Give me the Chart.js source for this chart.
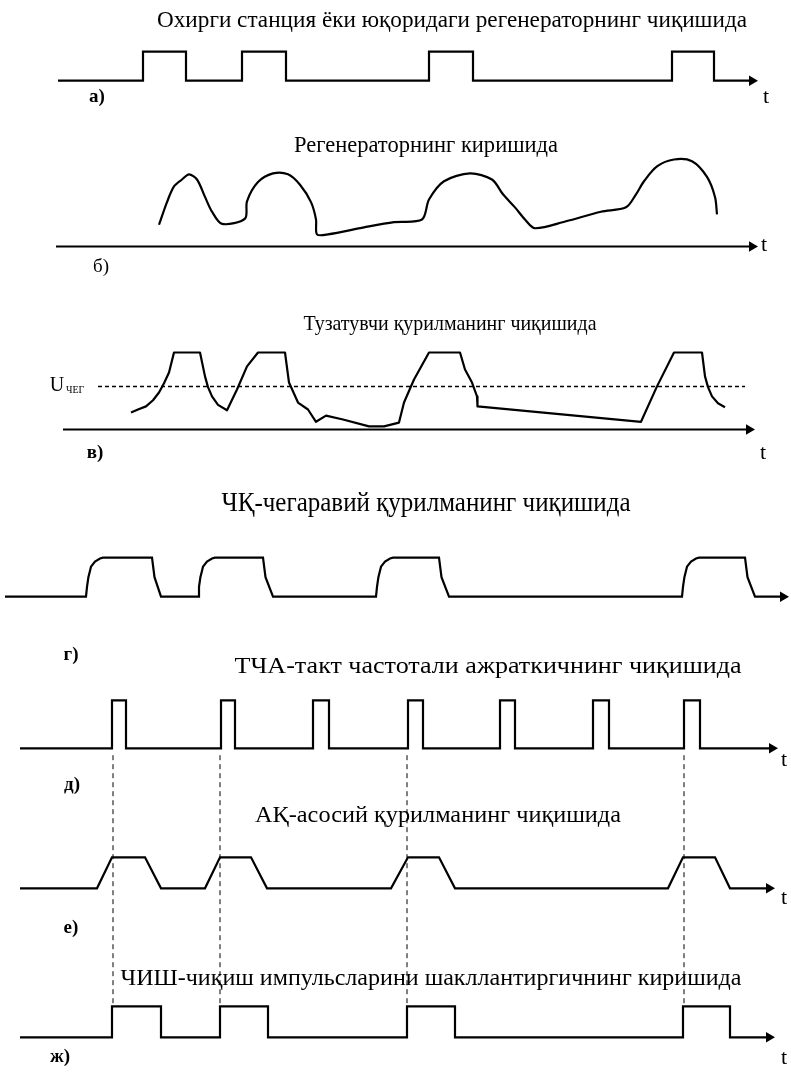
<!DOCTYPE html>
<html>
<head>
<meta charset="utf-8">
<script src="https://cdn.jsdelivr.net/npm/chart.js@4.4.0/dist/chart.umd.min.js"></script>
<style>
  html, body { margin: 0; padding: 0; background: #fff; }
  canvas { display: block; }
</style>
</head>
<body>
<canvas id="diagram" width="791" height="1072"></canvas>
<script>
// Timing diagrams: time t on a shared axis, level relative to each baseline

// а) output of the last station / upstream regenerator
const aTime  = [58, 143, 143, 186, 186, 242, 242, 286, 286, 429, 429, 473, 473, 672, 672, 714, 714, 752];
const aLevel = [0, 0, 1, 1, 0, 0, 1, 1, 0, 0, 1, 1, 0, 0, 1, 1, 0, 0];

// б) regenerator input (distorted signal)
const bAxis  = [56, 752];
const bTime  = [159, 167, 174, 182, 189, 197, 205, 212, 222, 245, 247, 258, 273, 288, 300, 311, 316, 317,
                328, 364, 394, 422, 429, 444, 470, 492, 503, 515, 525, 535, 566, 601, 626, 636, 644, 657,
                674, 692, 707, 715, 717];
const bLevel = [0.25, 0.51, 0.69, 0.77, 0.83, 0.77, 0.57, 0.40, 0.26, 0.32, 0.52, 0.74, 0.84, 0.83, 0.71, 0.51, 0.31, 0.14,
                0.14, 0.22, 0.28, 0.31, 0.54, 0.75, 0.84, 0.77, 0.60, 0.45, 0.31, 0.21, 0.29, 0.40, 0.45, 0.60, 0.75, 0.92,
                1.00, 0.98, 0.80, 0.57, 0.37];

// в) corrector output and threshold U
const vAxis  = [63, 749];
const vTime  = [131, 138, 146, 153, 159, 164, 169, 174, 200, 205, 208, 212, 218, 227, 237, 247, 258, 285,
                289, 298, 308, 316, 326, 343, 369, 384, 399, 404, 414, 429, 460, 465, 472, 477, 477.5,
                641, 657, 674, 702, 705, 708, 712, 718, 725];
const vLevel = [0.22, 0.26, 0.30, 0.38, 0.48, 0.60, 0.74, 1, 1, 0.69, 0.55, 0.43, 0.32, 0.25, 0.52, 0.82, 1, 1,
                0.61, 0.35, 0.26, 0.10, 0.18, 0.13, 0.04, 0.04, 0.09, 0.35, 0.65, 1, 1, 0.78, 0.61, 0.43, 0.30,
                0.10, 0.56, 1, 1, 0.69, 0.55, 0.43, 0.34, 0.29];
const vThresholdTime = [98, 745];
const vThreshold = 0.56;

// г) threshold device output
const gTime  = [5,
                86, 87, 88.4, 91, 95, 100, 103, 152, 154.5, 161,
                198, 199, 200.4, 203, 207, 212, 215, 263, 265.5, 273,
                376, 377, 378.4, 381, 385, 390, 393, 439, 441.5, 449,
                682, 683, 684.4, 687, 691, 696, 699, 745, 747.5, 755,
                783];
const gLevel = [0,
                0, 0.25, 0.5, 0.77, 0.9, 0.98, 1, 1, 0.5, 0,
                0, 0.25, 0.5, 0.77, 0.9, 0.98, 1, 1, 0.5, 0,
                0, 0.25, 0.5, 0.77, 0.9, 0.98, 1, 1, 0.5, 0,
                0, 0.25, 0.5, 0.77, 0.9, 0.98, 1, 1, 0.5, 0,
                0];

// д) clock frequency separator output
const dTime  = [20, 112, 112, 126, 126, 221, 221, 235, 235, 313, 313, 329, 329, 408, 408, 423, 423,
                500, 500, 515, 515, 593, 593, 609, 609, 684, 684, 700, 700, 772];
const dLevel = [0, 0, 1, 1, 0, 0, 1, 1, 0, 0, 1, 1, 0, 0, 1, 1, 0,
                0, 1, 1, 0, 0, 1, 1, 0, 0, 1, 1, 0, 0];

// е) main device output
const eTime  = [20, 97, 112, 145, 161, 205, 220, 251, 267, 391, 408, 439, 455, 668, 683, 715, 730, 769];
const eLevel = [0, 0, 1, 1, 0, 0, 1, 1, 0, 0, 1, 1, 0, 0, 1, 1, 0, 0];

// ж) output pulse shaper input
const zhTime  = [20, 112, 112, 161, 161, 220, 220, 268, 268, 407, 407, 455, 455, 683, 683, 730, 730, 769];
const zhLevel = [0, 0, 1, 1, 0, 0, 1, 1, 0, 0, 1, 1, 0, 0, 1, 1, 0, 0];

// sync markers (dashed) from д down to ж
const markerTime = [113, 220, 407, 684];
const markerLevels = [9.1, 1];

// --- layout: baseline pixel and pixels per level unit for every panel ---
const H = 1072;
const panels = {
  a:  { base: 80.7,  unit: 29 },
  b:  { base: 246.5, unit: 87 },
  v:  { base: 429.5, unit: 77 },
  g:  { base: 596.7, unit: 39 },
  d:  { base: 748.3, unit: 48 },
  e:  { base: 888.3, unit: 31 },
  zh: { base: 1037.3, unit: 31 }
};

const serif = '"Liberation Serif", "Times New Roman", serif';
const captions = [
  { text: 'Охирги станция ёки юқоридаги регенераторнинг чиқишида', x: 452, y: 21, size: 23, w: 590 },
  { text: 'Регенераторнинг киришида', x: 426, y: 146, size: 23, w: 264 },
  { text: 'Тузатувчи қурилманинг чиқишида', x: 450, y: 324, size: 22, w: 293 },
  { text: 'ЧҚ-чегаравий қурилманинг чиқишида', x: 426, y: 504, size: 27, w: 409 },
  { text: 'ТЧА-такт частотали ажраткичнинг чиқишида', x: 488, y: 667, size: 23, w: 507 },
  { text: 'АҚ-асосий қурилманинг чиқишида', x: 438, y: 816, size: 23, w: 366 },
  { text: 'ЧИШ-чиқиш импульсларини шакллантиргичнинг киришида', x: 431, y: 979, size: 23, w: 621 },
  { text: 'а)', x: 97, y: 97, size: 19, bold: true },
  { text: 'б)', x: 101, y: 267, size: 19 },
  { text: 'в)', x: 95, y: 453, size: 19, bold: true },
  { text: 'г)', x: 71, y: 655, size: 19, bold: true },
  { text: 'д)', x: 72, y: 785, size: 19, bold: true },
  { text: 'е)', x: 71, y: 928, size: 19, bold: true },
  { text: 'ж)', x: 60, y: 1057, size: 19, bold: true },
  { text: 't', x: 766, y: 97, size: 22 },
  { text: 't', x: 764, y: 245, size: 22 },
  { text: 't', x: 763, y: 453, size: 22 },
  { text: 't', x: 784, y: 760, size: 22 },
  { text: 't', x: 784, y: 898, size: 22 },
  { text: 't', x: 784, y: 1058, size: 22 },
  { text: 'U', x: 57, y: 386, size: 20 },
  { text: 'ЧЕГ', x: 66, y: 390, size: 10, align: 'left' }
];

function points(ts, vs) {
  return ts.map((t, i) => ({ x: t, y: vs[i] }));
}

function arrowEnd(ctx) {
  return ctx.dataIndex === ctx.dataset.data.length - 1 ? 6 : 0;
}

function trace(data, axis, extra) {
  return Object.assign({
    data: data,
    yAxisID: axis,
    showLine: true,
    borderColor: '#000',
    backgroundColor: '#000',
    borderWidth: 2.2,
    borderJoinStyle: 'miter',
    pointRadius: 0,
    pointHoverRadius: 0,
    tension: 0
  }, extra || {});
}

const arrow = { pointRadius: arrowEnd, pointStyle: 'triangle', pointRotation: 90, pointBorderWidth: 0 };

const datasets = [
  trace(points(aTime, aLevel), 'a', arrow),
  trace(points(bAxis, [0, 0]), 'b', arrow),
  trace(points(bTime, bLevel), 'b', { tension: 0.3 }),
  trace(points(vAxis, [0, 0]), 'v', arrow),
  trace(points(vTime, vLevel), 'v', { borderJoinStyle: 'round' }),
  trace(points(vThresholdTime, [vThreshold, vThreshold]), 'v', { borderWidth: 1.5, borderDash: [4, 3] }),
  trace(points(gTime, gLevel), 'g', arrow),
  trace(points(dTime, dLevel), 'd', arrow),
  trace(points(eTime, eLevel), 'e', arrow),
  trace(points(zhTime, zhLevel), 'zh', arrow)
];
markerTime.forEach(t => {
  datasets.push(trace(points([t, t], markerLevels), 'zh', { borderWidth: 1, borderDash: [5, 4] }));
});

const scales = {
  x: { type: 'linear', display: false, min: 0, max: 791 }
};
Object.entries(panels).forEach(([id, p]) => {
  scales[id] = { type: 'linear', display: false, min: (p.base - H) / p.unit, max: p.base / p.unit };
});

const captionPlugin = {
  id: 'captions',
  afterDraw(chart) {
    const ctx = chart.ctx;
    captions.forEach(c => {
      ctx.save();
      ctx.font = (c.bold ? 'bold ' : '') + c.size + 'px ' + serif;
      ctx.fillStyle = '#000';
      ctx.textBaseline = 'middle';
      ctx.textAlign = c.align || 'center';
      const w = ctx.measureText(c.text).width;
      ctx.translate(c.x, c.y);
      if (c.w) ctx.scale(c.w / w, 1);
      ctx.fillText(c.text, 0, 0);
      ctx.restore();
    });
  }
};

new Chart(document.getElementById('diagram'), {
  type: 'scatter',
  data: { datasets: datasets },
  options: {
    responsive: false,
    animation: false,
    devicePixelRatio: 1,
    layout: { padding: 0, autoPadding: false },
    plugins: { legend: { display: false }, tooltip: { enabled: false } },
    events: [],
    scales: scales
  },
  plugins: [captionPlugin]
});
</script>
</body>
</html>
